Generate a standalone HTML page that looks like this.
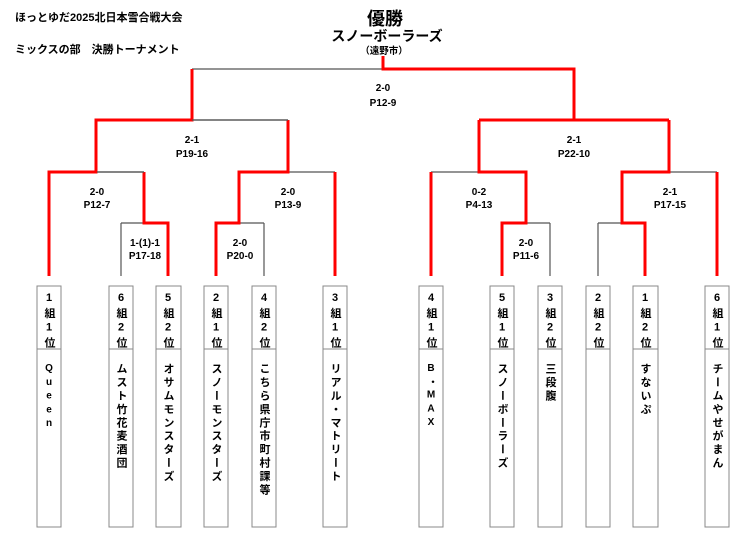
<!DOCTYPE html>
<html><head><meta charset="utf-8"><style>
html,body{margin:0;padding:0;background:#fff;}
svg{display:block;font-family:"Liberation Sans","Noto Sans CJK JP",sans-serif;font-weight:bold;}
.g{stroke:#555;stroke-width:1.2;fill:none}
.r{stroke:#f00;stroke-width:3;fill:none}
.box{stroke:#888;stroke-width:1;fill:#fff}
text{fill:#000}
.s{font-size:10px;text-anchor:middle}
.bt{font-size:11px;writing-mode:vertical-rl;text-orientation:upright;letter-spacing:3.3px}
.n{letter-spacing:2.4px}
.q{font-size:10px;letter-spacing:2.8px}
</style></head><body>
<svg width="740" height="535" viewBox="0 0 740 535">
<text x="15" y="21" font-size="11">ほっとゆだ2025北日本雪合戦大会</text>
<text x="15" y="53" font-size="11">ミックスの部　決勝トーナメント</text>
<text x="385" y="25" font-size="18" text-anchor="middle">優勝</text>
<text x="387" y="41" font-size="14" text-anchor="middle">スノーボーラーズ</text>
<text x="384" y="54" font-size="9.5" text-anchor="middle">（遠野市）</text>

<path class="g" d="M192 69H383 M192 120H288 M97 172H144 M121 223H144 M121 223V276 M264 223V276 M239 223H264 M288 172H335 M431 172H479 M526 223H550 M550 223V276 M669 172H717 M598 223H622 M598 223V276"/>
<path class="r" d="M383 56V69H574V120 M192 69V120H96V172H49V276 M288 120V172H239V223H216V276 M144 172V223H168V276 M335 172V276 M479 120H669 M479 120V172H526V223H502V276 M431 172V276 M669 120V172H622V223H645V276 M717 172V276"/>
<path class="g" d="M192 120H288 M97 172H144"/>
<path class="r" d="M96 120H192 M49 172H97 M239 172H288"/>

<text class="s" x="383" y="91">2-0</text><text class="s" x="383" y="106">P12-9</text>
<text class="s" x="192" y="143">2-1</text><text class="s" x="192" y="157">P19-16</text>
<text class="s" x="97" y="195">2-0</text><text class="s" x="97" y="208">P12-7</text>
<text class="s" x="288" y="195">2-0</text><text class="s" x="288" y="208">P13-9</text>
<text class="s" x="145" y="246">1-(1)-1</text><text class="s" x="145" y="259">P17-18</text>
<text class="s" x="240" y="246">2-0</text><text class="s" x="240" y="259">P20-0</text>
<text class="s" x="574" y="143">2-1</text><text class="s" x="574" y="157">P22-10</text>
<text class="s" x="479" y="195">0-2</text><text class="s" x="479" y="208">P4-13</text>
<text class="s" x="670" y="195">2-1</text><text class="s" x="670" y="208">P17-15</text>
<text class="s" x="526" y="246">2-0</text><text class="s" x="526" y="259">P11-6</text>

<g>
<rect class="box" x="37" y="286" width="24" height="241"/><line class="box" x1="37" y1="349" x2="61" y2="349"/>
<rect class="box" x="109" y="286" width="24" height="241"/><line class="box" x1="109" y1="349" x2="133" y2="349"/>
<rect class="box" x="156" y="286" width="25" height="241"/><line class="box" x1="156" y1="349" x2="181" y2="349"/>
<rect class="box" x="204" y="286" width="24" height="241"/><line class="box" x1="204" y1="349" x2="228" y2="349"/>
<rect class="box" x="252" y="286" width="24" height="241"/><line class="box" x1="252" y1="349" x2="276" y2="349"/>
<rect class="box" x="323" y="286" width="24" height="241"/><line class="box" x1="323" y1="349" x2="347" y2="349"/>
<rect class="box" x="419" y="286" width="24" height="241"/><line class="box" x1="419" y1="349" x2="443" y2="349"/>
<rect class="box" x="490" y="286" width="24" height="241"/><line class="box" x1="490" y1="349" x2="514" y2="349"/>
<rect class="box" x="538" y="286" width="24" height="241"/><line class="box" x1="538" y1="349" x2="562" y2="349"/>
<rect class="box" x="586" y="286" width="24" height="241"/><line class="box" x1="586" y1="349" x2="610" y2="349"/>
<rect class="box" x="633" y="286" width="25" height="241"/><line class="box" x1="633" y1="349" x2="658" y2="349"/>
<rect class="box" x="705" y="286" width="24" height="241"/><line class="box" x1="705" y1="349" x2="729" y2="349"/>
</g>
<g class="bt">
<text x="49" y="292">1組1位</text><text class="q" x="49" y="363">Queen</text>
<text x="121" y="292">6組2位</text><text class="n" x="121" y="363">ムスト竹花麦酒団</text>
<text x="168" y="292">5組2位</text><text class="n" x="168" y="363">オサムモンスターズ</text>
<text x="216" y="292">2組1位</text><text class="n" x="216" y="363">スノーモンスターズ</text>
<text x="264" y="292">4組2位</text><text class="n" x="264" y="363">こちら県庁市町村課等</text>
<text x="335" y="292">3組1位</text><text class="n" x="335" y="363">リアル・マトリート</text>
<text x="431" y="292">4組1位</text><text class="q" x="431" y="363">B・MAX</text>
<text x="502" y="292">5組1位</text><text class="n" x="502" y="363">スノーボーラーズ</text>
<text x="550" y="292">3組2位</text><text class="n" x="550" y="363">三段腹</text>
<text x="598" y="292">2組2位</text>
<text x="645" y="292">1組2位</text><text class="n" x="645" y="363">すないぷ</text>
<text x="717" y="292">6組1位</text><text class="n" x="717" y="363">チームやせがまん</text>
</g>
</svg>
</body></html>
